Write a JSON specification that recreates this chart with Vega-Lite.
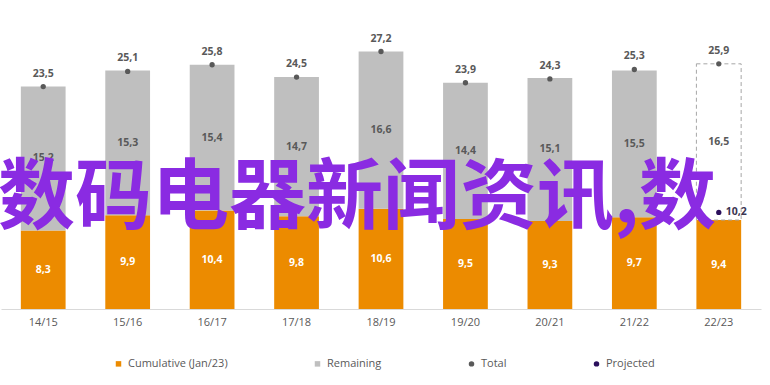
{
  "$schema": "https://vega.github.io/schema/vega-lite/v6.json",
  "width": 760,
  "height": 284,
  "autosize": {"type": "none"},
  "padding": {"left": 1, "top": 25, "right": 9, "bottom": 76},
  "background": "white",
  "config": {
    "view": {"stroke": null},
    "font": "Open Sans",
    "locale": {"number": {"decimal": ",", "thousands": ".", "grouping": [3], "currency": ["", ""]}},
    "axis": {"labelFont": "Open Sans", "labelColor": "#595959", "labelFontSize": 11},
    "legend": {"labelFont": "Open Sans", "labelColor": "#595959", "labelFontSize": 11, "symbolOpacity": 1}
  },
  "datasets": {
    "bars": [
      {"season": "14/15", "series": "Cumulative (Jan/23)", "value": 8.3},
      {"season": "14/15", "series": "Remaining", "value": 15.2},
      {"season": "15/16", "series": "Cumulative (Jan/23)", "value": 9.9},
      {"season": "15/16", "series": "Remaining", "value": 15.3},
      {"season": "16/17", "series": "Cumulative (Jan/23)", "value": 10.4},
      {"season": "16/17", "series": "Remaining", "value": 15.4},
      {"season": "17/18", "series": "Cumulative (Jan/23)", "value": 9.8},
      {"season": "17/18", "series": "Remaining", "value": 14.7},
      {"season": "18/19", "series": "Cumulative (Jan/23)", "value": 10.6},
      {"season": "18/19", "series": "Remaining", "value": 16.6},
      {"season": "19/20", "series": "Cumulative (Jan/23)", "value": 9.5},
      {"season": "19/20", "series": "Remaining", "value": 14.4},
      {"season": "20/21", "series": "Cumulative (Jan/23)", "value": 9.3},
      {"season": "20/21", "series": "Remaining", "value": 15.1},
      {"season": "21/22", "series": "Cumulative (Jan/23)", "value": 9.7},
      {"season": "21/22", "series": "Remaining", "value": 15.5},
      {"season": "22/23", "series": "Cumulative (Jan/23)", "value": 9.4},
      {"season": "22/23", "series": "Remaining", "value": 16.5}
    ],
    "totals": [
      {"season": "14/15", "total": 23.5},
      {"season": "15/16", "total": 25.1},
      {"season": "16/17", "total": 25.8},
      {"season": "17/18", "total": 24.5},
      {"season": "18/19", "total": 27.2},
      {"season": "19/20", "total": 23.9},
      {"season": "20/21", "total": 24.3},
      {"season": "21/22", "total": 25.3},
      {"season": "22/23", "total": 25.9}
    ],
    "projected": [{"season": "22/23", "value": 10.2}],
    "legend": [
      {"series": "Cumulative (Jan/23)", "season": "18/19", "value": 10},
      {"series": "Remaining", "season": "18/19", "value": 10},
      {"series": "Total", "season": "18/19", "value": 10},
      {"series": "Projected", "season": "18/19", "value": 10}
    ],
    "overlay": [{"text": "数码电器新闻资讯,数", "season": "18/19", "y": 11.5}]
  },
  "encoding": {
    "x": {
      "field": "season", "type": "nominal", "title": null,
      "scale": {"paddingInner": 0.47, "paddingOuter": 0.235},
      "axis": {"labelAngle": 0, "ticks": false, "domainColor": "#d9d9d9", "labelPadding": 7}
    }
  },
  "layer": [
    {
      "data": {"name": "bars"},
      "transform": [
        {"stack": "value", "groupby": ["season"], "sort": [{"field": "series"}], "as": ["v0", "v1"]},
        {"filter": "!(datum.season == '22/23' && datum.series == 'Remaining')"}
      ],
      "mark": {"type": "bar"},
      "encoding": {
        "y": {"field": "v0", "type": "quantitative", "scale": {"domain": [0, 30]}, "axis": null},
        "y2": {"field": "v1"},
        "fill": {"field": "series", "type": "nominal", "legend": null,
          "scale": {"domain": ["Cumulative (Jan/23)", "Remaining"], "range": ["#ec8b00", "#bfbfbf"]}}
      }
    },
    {
      "data": {"name": "bars"},
      "transform": [
        {"stack": "value", "groupby": ["season"], "sort": [{"field": "series"}], "as": ["v0", "v1"]},
        {"filter": "datum.season == '22/23' && datum.series == 'Remaining'"}
      ],
      "mark": {"type": "bar", "fill": "white", "stroke": "#a6a6a6", "strokeDash": [4, 3], "strokeWidth": 1},
      "encoding": {
        "y": {"field": "v0", "type": "quantitative"},
        "y2": {"field": "v1"}
      }
    },
    {
      "data": {"name": "bars"},
      "transform": [
        {"stack": "value", "groupby": ["season"], "sort": [{"field": "series"}], "as": ["v0", "v1"]},
        {"calculate": "(datum.v0 + datum.v1) / 2", "as": "mid"}
      ],
      "mark": {"type": "text", "fontWeight": "bold", "fontSize": 10.5, "baseline": "middle"},
      "encoding": {
        "y": {"field": "mid", "type": "quantitative"},
        "text": {"field": "value", "type": "quantitative", "format": ".1f"},
        "color": {"condition": {"test": "datum.series == 'Remaining'", "value": "#595959"}, "value": "white"}
      }
    },
    {
      "data": {"name": "totals"},
      "mark": {"type": "point", "filled": true, "size": 28, "color": "#595959", "opacity": 1},
      "encoding": {"y": {"field": "total", "type": "quantitative"}}
    },
    {
      "data": {"name": "totals"},
      "mark": {"type": "text", "fontWeight": "bold", "fontSize": 10.5, "color": "#595959", "dy": -13, "baseline": "middle"},
      "encoding": {
        "y": {"field": "total", "type": "quantitative"},
        "text": {"field": "total", "type": "quantitative", "format": ".1f"}
      }
    },
    {
      "data": {"name": "projected"},
      "mark": {"type": "point", "filled": true, "size": 28, "color": "#2b0f5c", "opacity": 1},
      "encoding": {"y": {"field": "value", "type": "quantitative"}}
    },
    {
      "data": {"name": "projected"},
      "mark": {"type": "text", "fontWeight": "bold", "fontSize": 10.5, "color": "#3b3552", "dx": 7, "align": "left", "baseline": "middle"},
      "encoding": {
        "y": {"field": "value", "type": "quantitative"},
        "text": {"field": "value", "type": "quantitative", "format": ".1f"}
      }
    },
    {
      "data": {"name": "overlay"},
      "mark": {"type": "text", "font": "Noto Sans CJK SC", "fontWeight": "bold", "fontSize": 77, "color": "#8a2be2", "align": "center", "baseline": "middle", "dx": -24},
      "encoding": {
        "y": {"field": "y", "type": "quantitative"},
        "text": {"field": "text"}
      }
    },
    {
      "data": {"name": "legend"},
      "mark": {"type": "point", "filled": true, "opacity": 0},
      "encoding": {
        "y": {"field": "value", "type": "quantitative"},
        "color": {"field": "series", "type": "nominal",
          "scale": {"domain": ["Cumulative (Jan/23)", "Remaining", "Total", "Projected"], "range": ["#ec8b00", "#bfbfbf", "#595959", "#2b0f5c"]},
          "legend": {"title": null, "orient": "none", "legendX": 112, "legendY": 333, "direction": "horizontal", "columnPadding": 83, "symbolSize": 30, "labelOffset": 4}},
        "shape": {"field": "series", "type": "nominal",
          "scale": {"domain": ["Cumulative (Jan/23)", "Remaining", "Total", "Projected"], "range": ["square", "square", "circle", "circle"]},
          "legend": {"title": null, "orient": "none", "legendX": 112, "legendY": 333, "direction": "horizontal", "columnPadding": 83, "symbolSize": 30, "labelOffset": 4}}
      }
    }
  ]
}
